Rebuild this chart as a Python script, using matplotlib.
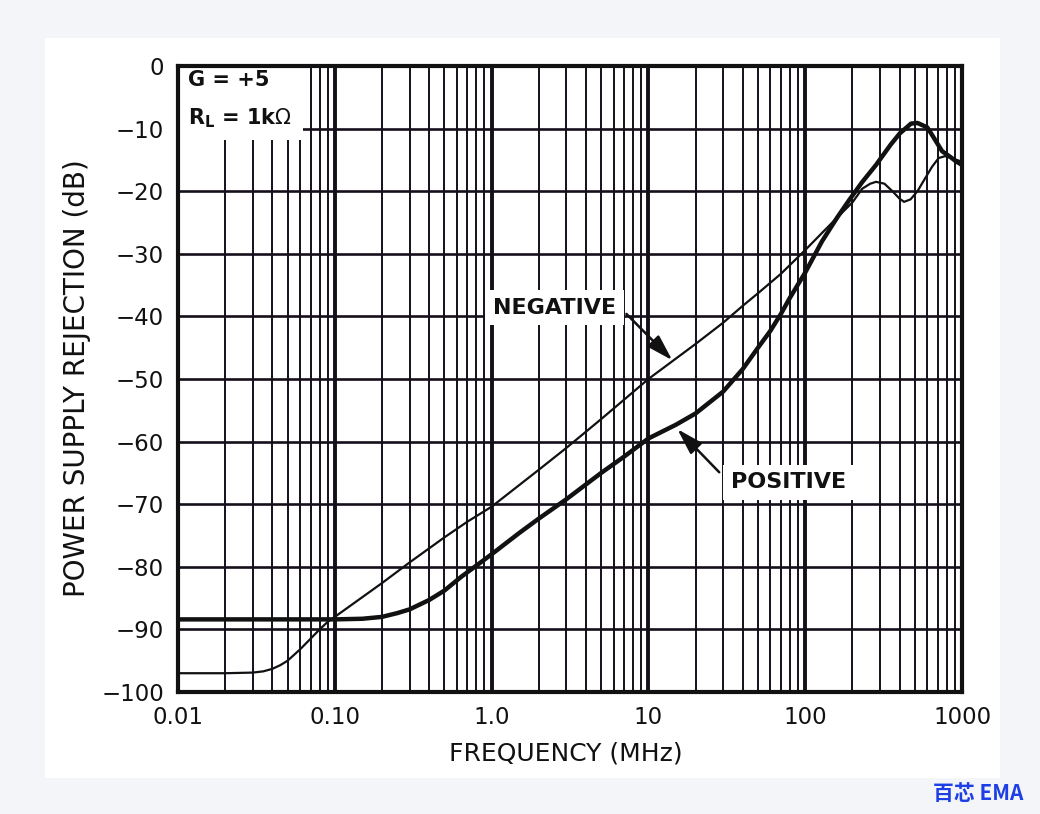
import matplotlib
matplotlib.use("Agg")
import matplotlib.pyplot as plt
from matplotlib.patches import Rectangle
from matplotlib.ticker import FixedLocator, NullFormatter

# ---------------- data ----------------
pos_freq = [0.01, 0.05, 0.1, 0.15, 0.2, 0.25, 0.3, 0.4, 0.5, 0.64, 0.8, 1.0,
            1.5, 2.0, 3.0, 5.0, 7.0, 10, 15, 20, 30, 40, 50, 60, 70, 80, 100,
            128, 160, 191, 230, 283, 350, 400, 473, 520, 600, 644, 746, 850,
            912, 1000]
pos_db = [-88.4, -88.4, -88.4, -88.3, -88.0, -87.4, -86.8, -85.3, -83.8, -81.6,
          -79.8, -78.0, -74.6, -72.3, -69.2, -65.0, -62.4, -59.5, -57.3, -55.5,
          -52.0, -48.4, -45.0, -42.3, -39.6, -37.0, -33.0, -28.0, -24.2, -21.4,
          -18.6, -15.8, -12.6, -10.8, -9.2, -9.1, -9.8, -11.0, -13.6, -14.6,
          -15.2, -15.8]

neg_freq = [0.01, 0.02, 0.03, 0.035, 0.04, 0.045, 0.05, 0.06, 0.07, 0.08, 0.09,
            0.1, 0.2, 0.3, 0.5, 0.7, 1.0, 2.0, 3.0, 5.0, 7.0, 10, 20, 30, 40, 50,
            70, 100, 130, 160, 200, 231, 260, 283, 320, 360, 400, 427, 470, 520,
            580, 644, 710, 780, 900, 1000]
neg_db = [-97.0, -97.0, -96.9, -96.7, -96.3, -95.7, -95.0, -93.2, -91.5, -90.0,
          -88.8, -88.0, -82.6, -79.3, -75.3, -72.8, -70.4, -64.5, -61.0, -56.4,
          -53.3, -50.0, -44.4, -41.0, -38.3, -36.3, -33.2, -29.4, -26.5, -24.2,
          -21.8, -19.6, -18.8, -18.5, -18.8, -20.0, -21.2, -21.7, -21.3, -20.0,
          -18.0, -16.1, -14.7, -14.4, -14.9, -15.3]

x_ticks = [0.01, 0.1, 1.0, 10, 100, 1000]
x_tick_labels = ["0.01", "0.10", "1.0", "10", "100", "1000"]
y_ticks = [0, -10, -20, -30, -40, -50, -60, -70, -80, -90, -100]
y_tick_labels = ["0", "\u221210", "\u221220", "\u221230", "\u221240", "\u221250",
                 "\u221260", "\u221270", "\u221280", "\u221290", "\u2212100"]
minor_x = [m * d for d in [0.01, 0.1, 1, 10, 100] for m in range(2, 10)]

# ---------------- figure ----------------
plt.rcParams['font.family'] = ['DejaVu Sans']
W, H = 1040, 814
fig = plt.figure(figsize=(W / 100, H / 100), dpi=100, facecolor='#f4f5f8')

# white inner panel
fig.patches.append(Rectangle((45 / W, 1 - 778 / H), (1000 - 45) / W, (778 - 38) / H,
                             transform=fig.transFigure, facecolor='white',
                             edgecolor='none', zorder=-10))

L, R, T, B = 178, 962, 66, 692
ax = fig.add_axes([L / W, 1 - B / H, (R - L) / W, (B - T) / H])
ax.set_zorder(1)
ax.set_facecolor('white')
ax.set_xscale('log')
ax.set_xlim(0.01, 1000)
ax.set_ylim(-100, 0)

gc = '#140f1a'
ax.xaxis.set_major_locator(FixedLocator(x_ticks))
ax.xaxis.set_minor_locator(FixedLocator(minor_x))
ax.xaxis.set_minor_formatter(NullFormatter())
ax.set_xticks(x_ticks)
ax.set_xticklabels(x_tick_labels)
ax.set_yticks(y_ticks)
ax.set_yticklabels(y_tick_labels)
ax.tick_params(which='both', length=0, labelsize=16.5, colors='#111111', pad=10)
ax.set_axisbelow(True)
ax.grid(which='major', axis='x', color=gc, lw=2.8)
ax.grid(which='minor', axis='x', color=gc, lw=1.4)
ax.grid(which='major', axis='y', color=gc, lw=1.9)
for s in ax.spines.values():
    s.set_linewidth(3.0)
    s.set_color('#111111')
    s.set_zorder(5)

# white box behind the conditions text
ax.add_patch(Rectangle((0, 1 - (140 - T) / (B - T)), (303 - L) / (R - L),
                       (140 - T) / (B - T), transform=ax.transAxes,
                       facecolor='white', edgecolor='none', zorder=1.5))
ax.text(0.013, 1 - (80 - T) / (B - T), "G = +5", transform=ax.transAxes,
        fontsize=15, fontweight='bold', color='#111111', va='center', ha='left', zorder=3)
ax.text(0.013, 1 - (118 - T) / (B - T), r"R$_\mathregular{L}$ = 1k$\Omega$",
        transform=ax.transAxes, fontsize=15, fontweight='bold', color='#111111',
        va='center', ha='left', zorder=3)

# curves
ax.plot(neg_freq, neg_db, color='#111111', lw=1.6, zorder=4, solid_capstyle='round')
ax.plot(pos_freq, pos_db, color='#111111', lw=3.2, zorder=4, solid_capstyle='round')

# annotations
bb = dict(boxstyle='square,pad=0.35', facecolor='white', edgecolor='none')
ax.text(2.52, -38.6, "NEGATIVE", fontsize=16, fontweight='bold', color='#111111',
        ha='center', va='center', bbox=bb, zorder=3)
ax.text(78, -66.5, "POSITIVE", fontsize=16, fontweight='bold', color='#111111',
        ha='center', va='center', bbox=bb, zorder=3)
ap = dict(arrowstyle='-|>,head_length=1.0,head_width=0.3', lw=1.8, color='#111111',
          mutation_scale=16, shrinkA=0, shrinkB=0)
ax.annotate("", xy=(14.2, -47.0), xytext=(7.24, -39.6), arrowprops=ap, zorder=4)
ax.annotate("", xy=(15.3, -58.0), xytext=(28.3, -64.9), arrowprops=ap, zorder=4)

# axis labels
fig.text(566 / W, 1 - 754 / H, "FREQUENCY (MHz)", fontsize=18, color='#111111',
         ha='center', va='center')
fig.text(77 / W, 1 - 378 / H, "POWER SUPPLY REJECTION (dB)", fontsize=20,
         color='#111111', ha='center', va='center', rotation=90)

# watermark
fig.text(978 / W, 1 - 793 / H, "百芯 EMA", fontsize=15, fontweight='bold',
         color='#1f3fe6', ha='center', va='center',
         family=['Noto Sans CJK SC', 'DejaVu Sans'])

fig.savefig('out.png', dpi=100, facecolor=fig.get_facecolor())
